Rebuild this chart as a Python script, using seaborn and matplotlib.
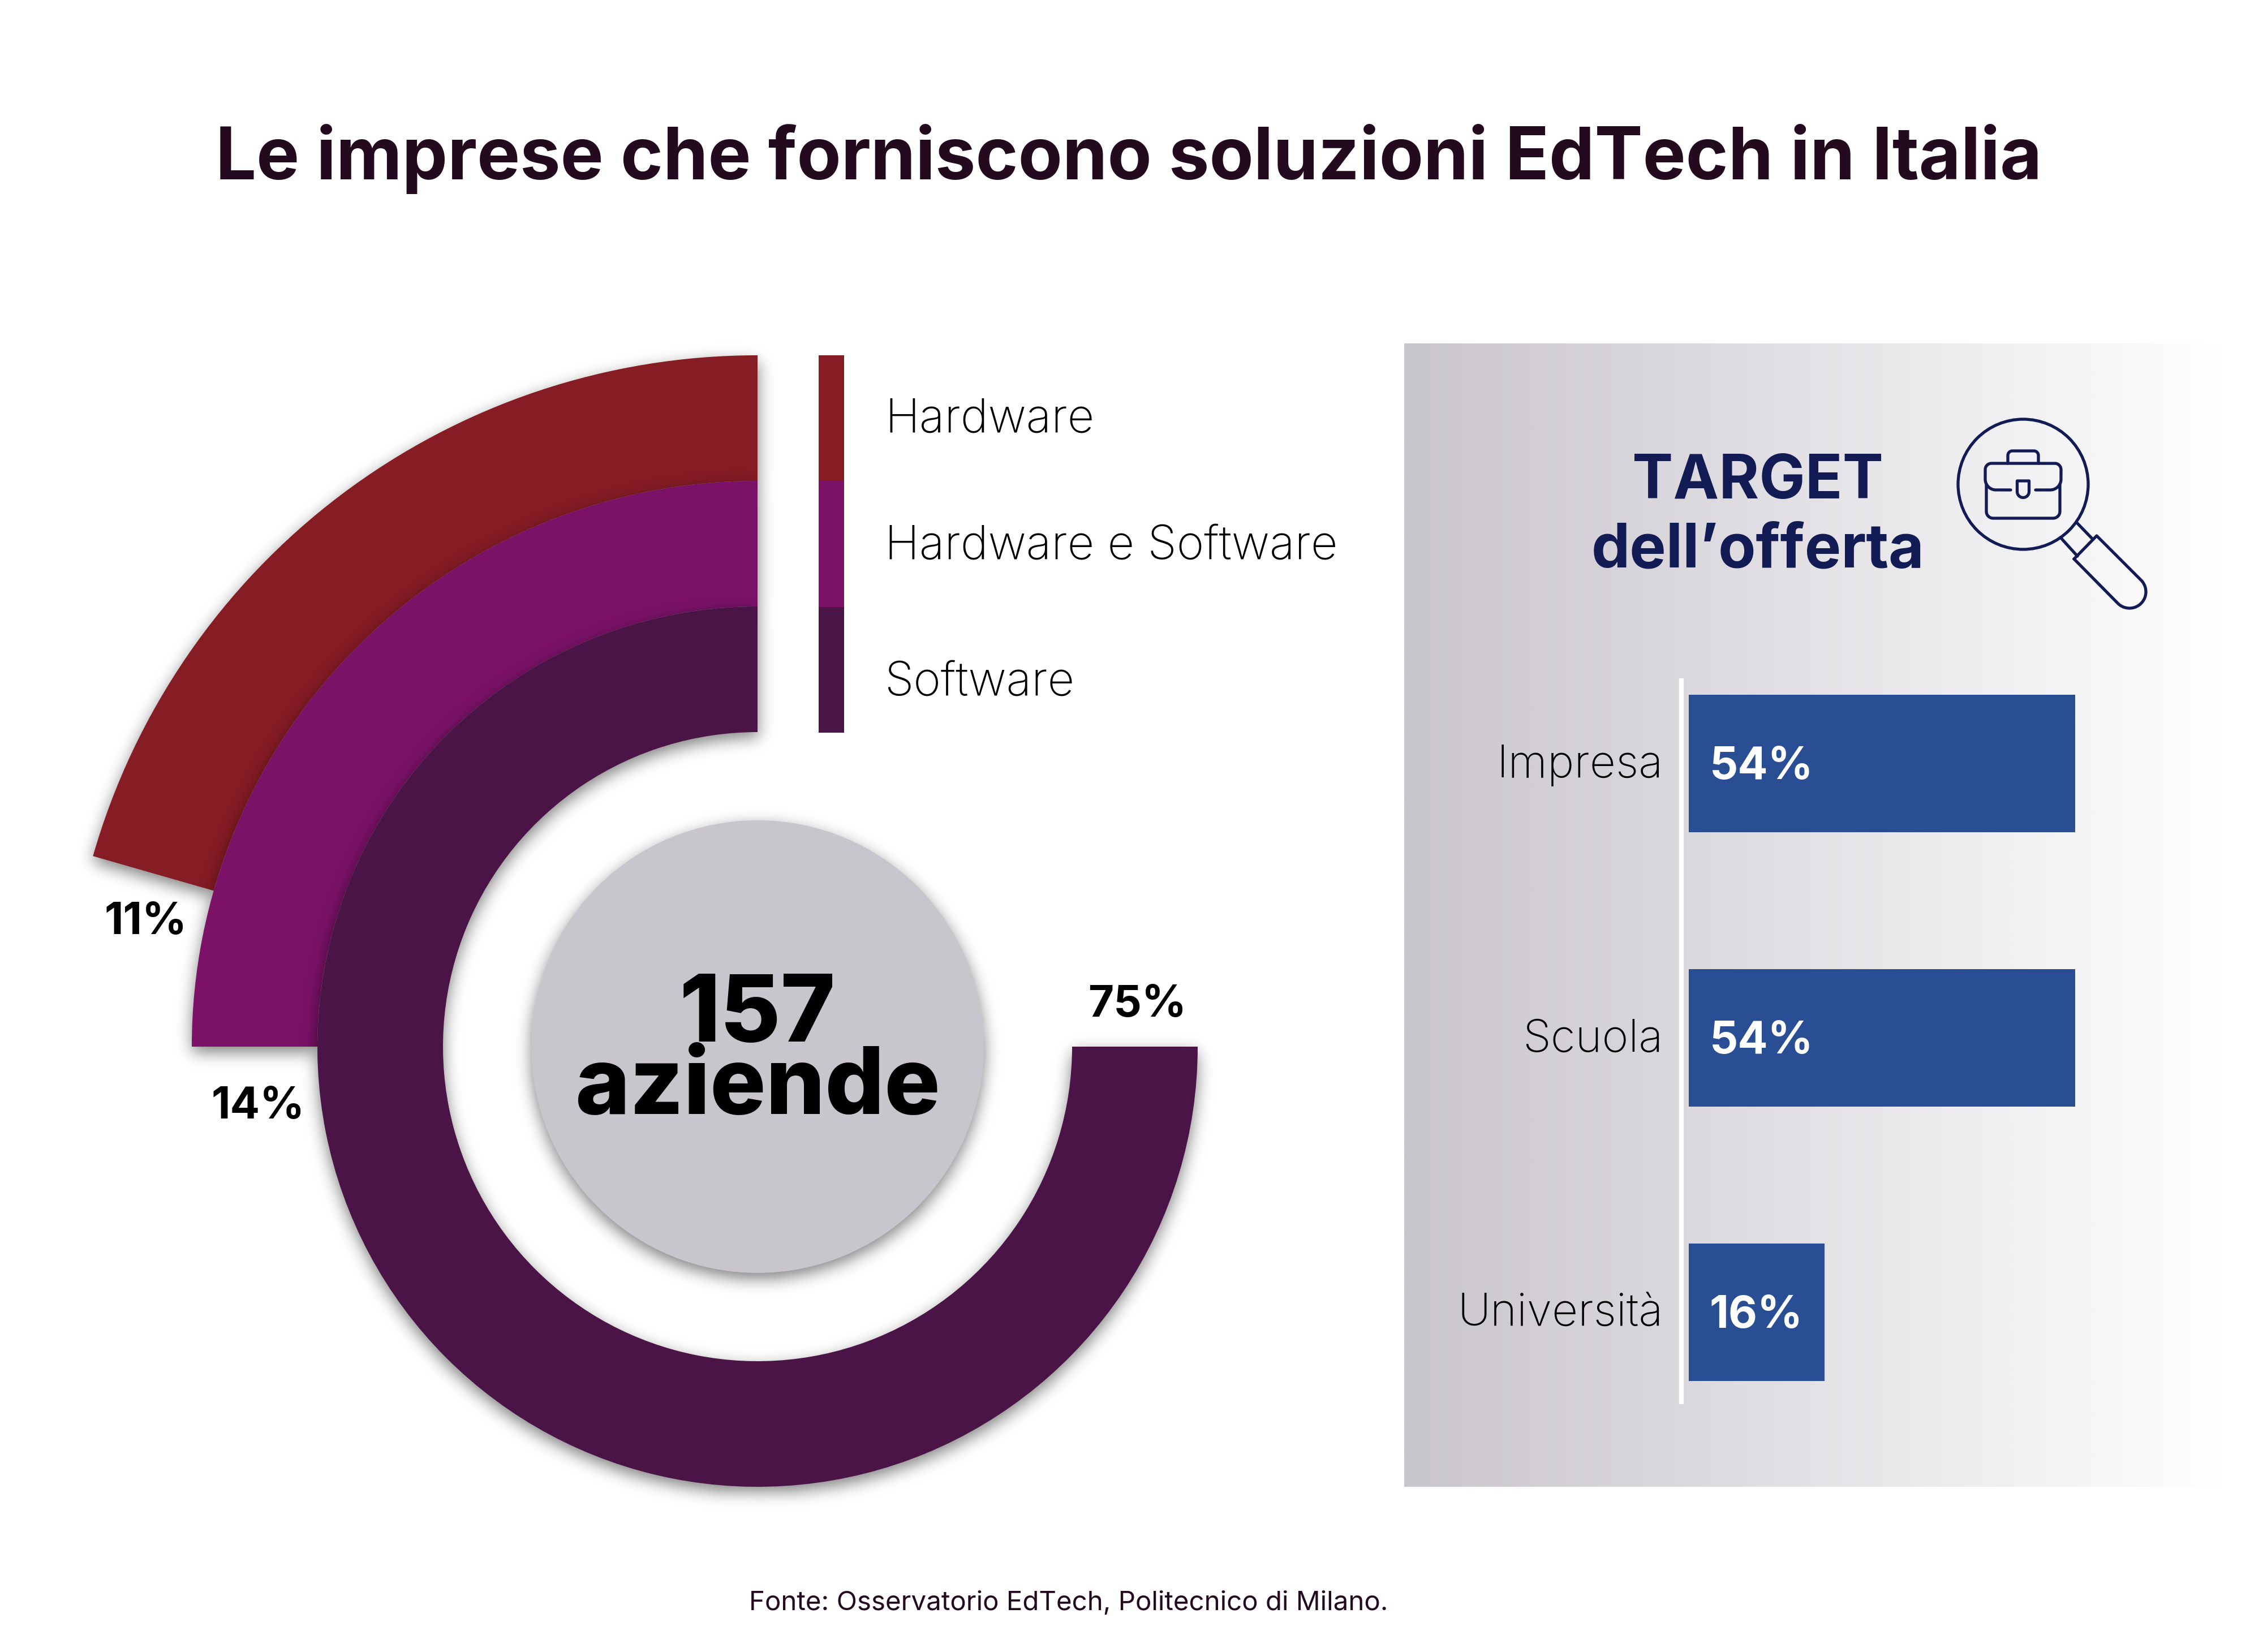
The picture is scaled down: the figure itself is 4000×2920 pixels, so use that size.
"""
EdTech companies in Italy: stacked arcs on the left, target bars on the right
"""

import numpy as np
import pandas as pd
import matplotlib
matplotlib.use("Agg")
import matplotlib.pyplot as plt
from matplotlib.colors import LinearSegmentedColormap
from matplotlib.patches import Circle, Rectangle
from matplotlib.transforms import ScaledTranslation
import seaborn as sns

W, H = 4000, 2920

title = "Le imprese che forniscono soluzioni EdTech in Italia"
source = "Fonte: Osservatorio EdTech, Politecnico di Milano."

# arcs, outer to inner (the arc sweep in the original is not proportional to the share)
offer_types = ["Hardware", "Hardware e Software", "Software"]
offer_labels = ["11%", "14%", "75%"]
offer_sweeps = [74, 90, 270]
offer_colors = ["#861c24", "#7b1268", "#4b1446"]
total_top = "157"
total_bottom = "aziende"

# bars (Università is drawn a bit longer than its label says, same as the original)
targets = ["Impresa", "Scuola", "Università"]
target_lengths = [54, 54, 19]
target_labels = ["54%", "54%", "16%"]

DARK = "#230a1e"
NAVY = "#131b55"
BLUE = "#294e93"
GREY = "#c9c5cc"

sns.set_theme(style="white")
plt.rcParams["font.family"] = ["Inter", "DejaVu Sans"]


def label(x, y, s, **kw):
    """Text placed with pixel coordinates of the final image"""
    kw.setdefault("ha", "center")
    kw.setdefault("va", "center")
    return fig.text(x / W, 1 - y / H, s, **kw)


def soft_shadow(ax, patch, zorder, sigma=14, drop=10, opacity=0.5, step=4):
    """Blurred copy of a patch, drawn as an image right under it"""
    xs = np.arange(0, W, step) + step / 2
    ys = np.arange(0, H, step) + step / 2
    grid = np.column_stack([g.ravel() for g in np.meshgrid(xs, ys + drop)])
    path = patch.get_patch_transform().transform_path(patch.get_path())
    mask = path.contains_points(grid).reshape(len(ys), len(xs)).astype(float)

    reach = int(4 * sigma / step)
    kernel = np.exp(-0.5 * (np.arange(-reach, reach + 1) * step / sigma) ** 2)
    kernel /= kernel.sum()
    for axis in (0, 1):
        mask = np.apply_along_axis(np.convolve, axis, mask, kernel, mode="same")

    rgba = np.zeros(mask.shape + (4,))
    rgba[..., 3] = mask * opacity
    ax.imshow(rgba, extent=(0, W, 0, H), origin="lower", aspect="auto",
              interpolation="bilinear", zorder=zorder)


def arc(cx, cy, r, a0, a1):
    t = np.radians(np.linspace(a0, a1, 40))
    return cx + r * np.cos(t), cy + r * np.sin(t)


def draw_icon(ax, cx, cy):
    line = dict(color=NAVY, lw=0.95, solid_capstyle="round", solid_joinstyle="round")

    def poly(*pieces):
        xs = np.concatenate([np.atleast_1d(p[0]) for p in pieces])
        ys = np.concatenate([np.atleast_1d(p[1]) for p in pieces])
        ax.plot(cx + xs, cy + ys, **line)

    ax.add_patch(Circle((cx, cy), 115, fill=False, ec=NAVY, lw=0.95))

    # briefcase: body, flap, top handle, clasp
    poly((-65, 0), arc(-53, 48, 12, 180, 90), arc(53, 48, 12, 90, 0), (65, 0))
    poly((-22, 10), arc(-48, -9, 19, 90, 180), arc(-56, -26, 11, 180, 270),
         arc(56, -26, 11, 270, 360), arc(48, -9, 19, 0, 90), (22, 10))
    poly((-27, -37), arc(-19, -51, 8, 180, 270), arc(19, -51, 8, 270, 360), (27, -37))
    poly((-10.5, 13), (-10.5, -6), (10.5, -6), arc(0, 13, 10.5, 0, 180))

    # neck and handle of the magnifier
    poly((94, 67), (123, 97))
    poly((66, 94), (96, 127))
    poly((90, 132), (130, 91), arc(188, 190, 29, -45, 135), (90, 132))


fig = plt.figure(figsize=(W / 400, H / 400), dpi=400, facecolor="white")

# pixel canvas with the gradient panel and the icon
canvas = fig.add_axes([0, 0, 1, 1], zorder=0)
fade = LinearSegmentedColormap.from_list("fade", [GREY, "#ffffff"])
canvas.imshow(np.linspace(0, 1, 512).reshape(1, -1), cmap=fade, aspect="auto",
              extent=(2482, 3930, 2628, 607), zorder=0)
canvas.set_xlim(0, W)
canvas.set_ylim(H, 0)
canvas.axis("off")
canvas.plot([2972, 2972], [1199, 2482], color="white", lw=1.5, solid_capstyle="butt", zorder=1)
draw_icon(canvas, 3576, 856)

# arcs, drawn from the outer one so every ring drops its shadow on the previous one
donut = fig.add_axes([0, 0, 1, 1], zorder=1)
donut.patch.set_alpha(0)
center = (1339, H - 1850)
radius = 1222
ring = 222
for i, (sweep, color) in enumerate(zip(offer_sweeps, offer_colors)):
    wedges, _ = donut.pie([sweep, 360 - sweep], colors=[color, "none"], startangle=90,
                          center=center, radius=radius - i * ring,
                          wedgeprops=dict(width=ring, linewidth=0))
    wedges[0].set_zorder(2 + 2 * i)
    soft_shadow(donut, wedges[0], zorder=1 + 2 * i)
disc = Circle(center, 400, fc=GREY, ec="none", zorder=8)
donut.add_patch(disc)
soft_shadow(donut, disc, zorder=7)
donut.set_xlim(0, W)
donut.set_ylim(0, H)
donut.axis("off")

# legend strip
strip_top = 628
strip_step = 222.3
for i, color in enumerate(offer_colors):
    canvas.add_patch(Rectangle((1447, strip_top + i * strip_step), 45, strip_step, fc=color, ec="none"))

# target bars
bars = pd.DataFrame({"target": targets, "length": target_lengths})
ax = fig.add_axes([2985 / W, 1 - 2562 / H, 940 / W, 1455 / H], zorder=2)
ax.patch.set_alpha(0)
sns.barplot(data=bars, x="length", y="target", color=BLUE, width=0.5, saturation=1, linewidth=0, ax=ax)
ax.set_xlim(0, 74.3)
ax.set_ylim(2.5, -0.5)
ax.set_xlabel("")
ax.set_ylabel("")
ax.set_xticks([])
ax.tick_params(axis="y", length=0, pad=8.2, labelsize=14.4, labelcolor="black")
lift = ScaledTranslation(0, 0.9 / 72, fig.dpi_scale_trans)
for tick in ax.get_yticklabels():
    tick.set_fontweight("light")
    tick.set_transform(tick.get_transform() + lift)
sns.despine(ax=ax, left=True, bottom=True)
for i, text in enumerate(target_labels):
    ax.annotate(text, (0, i), xytext=(6.6, -1.2), textcoords="offset points", color="white",
                fontsize=14.2, fontweight="bold", ha="left", va="center")

# texts
label(1995, 281, title, fontsize=23, fontweight="bold", color=DARK)
label(3107, 852, "TARGET", fontsize=19.5, fontweight="bold", color=NAVY)
label(3107, 974, "dell’offerta", fontsize=19.5, fontweight="bold", color=NAVY)
label(1889, 2834, source, fontsize=8.55, color=DARK)

legend_y = [742, 967, 1208]
for name, y in zip(offer_types, legend_y):
    label(1564, y, name, ha="left", fontsize=14.9, fontweight="light", color="black")

label(258, 1630, offer_labels[0], fontsize=14, fontweight="bold", color="black")
label(456, 1956, offer_labels[1], fontsize=14, fontweight="bold", color="black")
label(2010, 1776, offer_labels[2], fontsize=14, fontweight="bold", color="black")

label(1339, 1862, total_top + "\n" + total_bottom, fontsize=29.6, fontweight=800,
      color="black", linespacing=0.79)

fig.savefig("out.png", dpi=400)
